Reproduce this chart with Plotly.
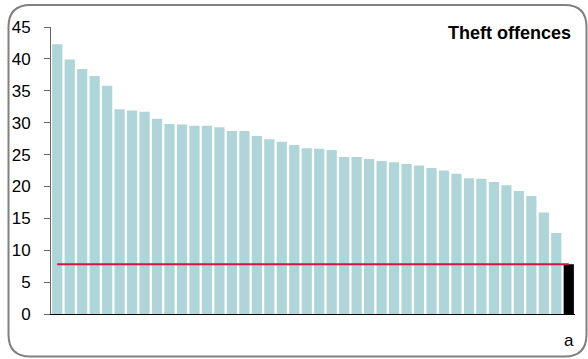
import plotly.graph_objects as go

# ---- data ----
categories = [f"c{i}" for i in range(1, 42)] + ["a"]
values = [42.3, 39.9, 38.4, 37.3, 35.8, 32.1, 31.9, 31.7, 30.6, 29.8,
          29.7, 29.5, 29.5, 29.3, 28.7, 28.7, 27.9, 27.4, 27.0, 26.5,
          26.0, 25.9, 25.7, 24.6, 24.6, 24.3, 24.0, 23.8, 23.5, 23.3,
          22.9, 22.5, 22.0, 21.3, 21.2, 20.7, 20.2, 19.3, 18.5, 15.9,
          12.7, 7.8]
reference_value = 7.8
tick_labels = [""] * 41 + ["a"]
y_ticks = list(range(0, 50, 5))
title_text = "Theft offences"

bar_colors = ["#afd5d8"] * 41 + ["#000000"]

W, H = 588, 359
L, R, T, B = 51, 13, 27, 45
pw, ph = W - L - R, H - T - B

fig = go.Figure()
fig.add_trace(go.Bar(x=categories, y=values, marker=dict(color=bar_colors, line=dict(width=0)),
                     showlegend=False, hoverinfo="skip"))
fig.add_trace(go.Scatter(x=categories, y=[reference_value] * len(categories), mode="lines",
                         line=dict(color="#d2143f", width=2), showlegend=False, hoverinfo="skip"))

# rounded frame in paper coordinates
def px(x):
    return (x - L) / pw
def py(y):
    return (H - B - y) / ph
x0, x1, y0, y1, r = 8.5, 586.5, 5, 356.5, 22
path = (f"M {px(x0+r)},{py(y0)} L {px(x1-r)},{py(y0)} Q {px(x1)},{py(y0)} {px(x1)},{py(y0+r)} "
        f"L {px(x1)},{py(y1-r)} Q {px(x1)},{py(y1)} {px(x1-r)},{py(y1)} "
        f"L {px(x0+r)},{py(y1)} Q {px(x0)},{py(y1)} {px(x0)},{py(y1-r)} "
        f"L {px(x0)},{py(y0+r)} Q {px(x0)},{py(y0)} {px(x0+r)},{py(y0)} Z")
fig.add_shape(type="path", xref="paper", yref="paper", path=path,
              line=dict(color="#808080", width=2), layer="below")

fig.add_annotation(text=f"<b>{title_text}</b>", xref="paper", yref="paper",
                   x=px(573), y=py(33), xanchor="right", yanchor="middle", showarrow=False,
                   font=dict(size=18, color="#000000", family="Liberation Sans, Arial, sans-serif"))

fig.update_layout(
    width=W, height=H, margin=dict(l=L, r=R, t=T, b=B, autoexpand=False),
    paper_bgcolor="white", plot_bgcolor="white",
    bargap=0.18,
    font=dict(family="Liberation Sans, Arial, sans-serif", size=17, color="#000000"),
    xaxis=dict(type="category", range=[-0.5, 41.5], tickmode="array", tickvals=categories,
               ticktext=tick_labels, ticks="", showgrid=False, showline=True,
               linecolor="#000000", linewidth=1, ticklabelstandoff=11, automargin=False,
               tickfont=dict(size=17), fixedrange=True),
    yaxis=dict(range=[0, 45], tickvals=y_ticks, ticks="outside", ticklen=6,
               tickcolor="#666666", showgrid=False, showline=True, linecolor="#666666",
               linewidth=1, zeroline=False, ticklabelstandoff=10, automargin=False,
               tickfont=dict(size=17), fixedrange=True),
)
fig.write_html("out.html", config={"displayModeBar": False},
               post_script="document.body.style.margin='0';document.body.style.overflow='hidden';")
